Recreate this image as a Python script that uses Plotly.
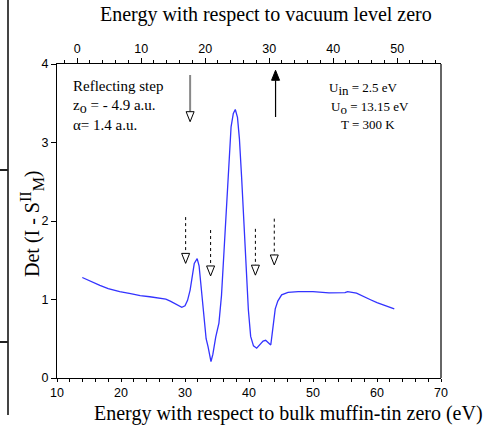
import plotly.graph_objects as go

# ---- data ----
energy_bulk = [13.95, 15.0, 16.7, 18.0, 19.8, 21.5, 23.0, 24.5, 26.1, 27.0, 27.7, 28.3, 28.9, 29.5,
               30.0, 30.4, 30.8, 31.1, 31.45, 31.9, 32.2, 32.45, 32.7, 33.0, 33.3, 33.6, 33.8, 34.06,
               34.35, 34.8, 35.3, 35.7, 36.1, 36.5, 36.9, 37.2, 37.55, 37.86, 38.2, 38.5, 38.85, 39.2,
               39.5, 39.9, 40.26, 40.7, 41.2, 41.7, 42.2, 42.6, 43.0, 43.4, 43.6, 43.8, 44.1, 44.5,
               45.1, 46.1, 47.7, 50.0, 51.6, 52.5, 55.0, 55.4, 56.8, 58.0, 58.9, 60.0, 61.0, 62.7]
det_values = [1.28, 1.24, 1.18, 1.14, 1.10, 1.075, 1.05, 1.035, 1.02, 1.005, 0.98, 0.95, 0.92, 0.90,
              0.92, 0.99, 1.12, 1.28, 1.46, 1.52, 1.43, 1.22, 1.00, 0.72, 0.50, 0.40, 0.33, 0.21,
              0.30, 0.52, 0.70, 1.05, 1.62, 2.25, 2.82, 3.20, 3.37, 3.42, 3.32, 3.05, 2.55, 1.97,
              1.38, 0.87, 0.53, 0.41, 0.38, 0.42, 0.47, 0.48, 0.45, 0.42, 0.55, 0.72, 0.88, 0.98,
              1.06, 1.09, 1.10, 1.10, 1.09, 1.085, 1.087, 1.10, 1.08, 1.04, 1.00, 0.96, 0.93, 0.88]
U_o = 13.15
x_range = [10, 70]
y_range = [0, 4]
x_ticks = [10, 20, 30, 40, 50, 60, 70]
y_ticks = [0, 1, 2, 3, 4]
top_ticks = [0, 10, 20, 30, 40, 50]

# arrow annotations (x, y_start, y_tip) in data units
dotted_arrows = [(30.1, 2.05, 1.46), (34.0, 1.885, 1.30), (41.0, 1.90, 1.31), (43.95, 2.03, 1.44)]
gray_arrow = (30.8, 3.86, 3.265)
up_arrow = (44.15, 3.325, 3.92)

# ---- geometry ----
W, H = 490, 428
L, R, T, B = 57, 441, 64, 378
PXX = (R - L) / (x_range[1] - x_range[0])
PXY = (B - T) / (y_range[1] - y_range[0])
def px_x(px): return (px - L) / (R - L)
def px_y(py): return (B - py) / (B - T)

SERIF = "Liberation Serif, Times New Roman, serif"
SANS = "Liberation Sans, Arial, sans-serif"

fig = go.Figure()
fig.add_trace(go.Scatter(x=energy_bulk, y=det_values, mode="lines",
                         line=dict(color="#3333ff", width=1.3), showlegend=False, hoverinfo="skip"))
fig.add_trace(go.Scatter(x=[x - U_o for x in x_range], y=[None, None], xaxis="x2", yaxis="y",
                         mode="lines", showlegend=False, hoverinfo="skip"))

shapes = []
hw = 4.0 / PXX
hh = 10.0 / PXY
def open_head_down(x, ytip, color="black"):
    return dict(type="path", xref="x", yref="y",
                path=f"M {x-hw},{ytip+hh} L {x+hw},{ytip+hh} L {x},{ytip} Z",
                fillcolor="white", line=dict(color=color, width=1))

for x, y0, y1 in dotted_arrows:
    shapes.append(dict(type="line", xref="x", yref="y", x0=x, x1=x, y0=y0, y1=y1 + hh,
                       line=dict(color="black", width=1, dash="dot")))
    shapes.append(open_head_down(x, y1))

gx, gy0, gy1 = gray_arrow
shapes.append(dict(type="line", xref="x", yref="y", x0=gx, x1=gx, y0=gy0, y1=gy1 + hh,
                   line=dict(color="#888888", width=2)))
shapes.append(open_head_down(gx, gy1))

ux, uy0, uy1 = up_arrow
shapes.append(dict(type="line", xref="x", yref="y", x0=ux, x1=ux, y0=uy0, y1=uy1 - hh,
                   line=dict(color="black", width=1.2)))
shapes.append(dict(type="path", xref="x", yref="y",
                   path=f"M {ux-hw},{uy1-hh} L {ux+hw},{uy1-hh} L {ux},{uy1} Z",
                   fillcolor="black", line=dict(color="black", width=1)))

# right border (grey) and left page-edge artefacts
shapes.append(dict(type="line", xref="paper", yref="paper", x0=1, x1=1, y0=0, y1=1,
                   line=dict(color="#666666", width=2)))
shapes.append(dict(type="line", xref="paper", yref="paper", x0=px_x(8), x1=px_x(8),
                   y0=px_y(0), y1=px_y(415), line=dict(color="#444444", width=2)))
for yy in (170, 342):
    shapes.append(dict(type="line", xref="paper", yref="paper", x0=px_x(0), x1=px_x(8),
                       y0=px_y(yy), y1=px_y(yy), line=dict(color="#222222", width=2)))

ann = []
def text(px, py, s, size, xanchor="left", font=SERIF, angle=0):
    ann.append(dict(xref="paper", yref="paper", x=px_x(px), y=px_y(py), text=s, showarrow=False,
                    xanchor=xanchor, yanchor="middle", textangle=angle,
                    font=dict(family=font, size=size, color="black")))

def sz(s, n):
    return f'<span style="font-size:{n}px">{s}</span>'

text(288, 413, "Energy with respect to bulk muffin-tin zero (eV)", 20, "center")
text(266, 14, "Energy with respect to vacuum level zero", 20, "center")
text(32, 224, "Det (I - S<sup>" + sz("II", 16) + "</sup><sub>" + sz("M", 16) + "</sub>)",
     20, "center", angle=-90)

text(71, 86, "Reflecting step", 15)
text(71, 106, "z<sub>" + sz("o", 14) + "</sub> = - 4.9 a.u.", 15)
text(71, 125, "α= 1.4 a.u.", 15)

text(363, 89, "U<sub>" + sz("in", 13) + "</sub> = 2.5 eV", 13, "center")
text(370, 108, "U<sub>" + sz("o", 13) + "</sub> = 13.15 eV", 13, "center")
text(368, 125, "T = 300 K", 13, "center")

axis_common = dict(showgrid=False, zeroline=False, showline=True, linecolor="black", linewidth=1,
                   ticks="outside", tickcolor="black",
                   tickfont=dict(family=SANS, size=12.5, color="black"))

fig.update_layout(
    width=W, height=H,
    margin=dict(l=L, r=W - R, t=T, b=H - B, pad=0),
    paper_bgcolor="white", plot_bgcolor="white",
    xaxis=dict(range=x_range, tickvals=x_ticks, ticklen=3, tickwidth=1,
               minor=dict(dtick=2, ticklen=3, ticks="outside", tickcolor="black"), **axis_common),
    xaxis2=dict(range=[x - U_o for x in x_range], overlaying="x", side="top", anchor="y",
                tickvals=top_ticks, ticklen=5, tickwidth=1,
                minor=dict(dtick=2, ticklen=3, ticks="outside", tickcolor="black"), **axis_common),
    yaxis=dict(range=y_range, tickvals=y_ticks, ticklen=5, tickwidth=1, **axis_common),
    shapes=shapes, annotations=ann, showlegend=False,
)

fig.write_html("out.html")
